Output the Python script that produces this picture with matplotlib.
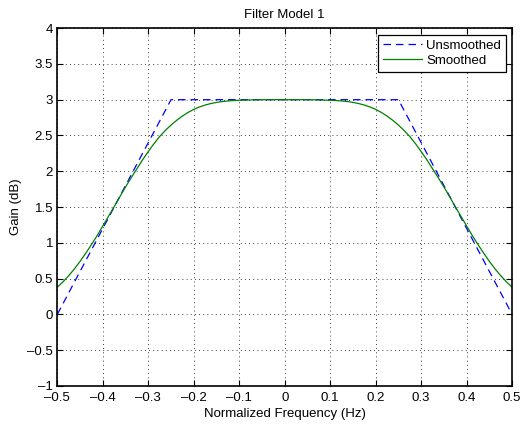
import matplotlib
matplotlib.use("Agg")
import matplotlib.pyplot as plt
from matplotlib.ticker import FuncFormatter

plt.rcParams['font.family'] = ['Liberation Sans', 'DejaVu Sans']

# Data
unsmoothed_x = [-0.5, -0.25, 0.25, 0.5]
unsmoothed_y = [0.0, 3.0, 3.0, 0.0]

half_x = [-0.5, -0.4875, -0.475, -0.4625, -0.45, -0.4375, -0.425, -0.4125,
          -0.4, -0.3875, -0.375, -0.3625, -0.35, -0.3375, -0.325, -0.3125,
          -0.3, -0.2875, -0.275, -0.2625, -0.25, -0.2375, -0.225, -0.2125,
          -0.2, -0.1875, -0.175, -0.1625, -0.15, -0.1375, -0.125, -0.1125,
          -0.1, -0.075, -0.05, -0.025]
half_y = [0.38, 0.455, 0.54, 0.635, 0.74, 0.855, 0.975, 1.10,
          1.235, 1.37, 1.505, 1.645, 1.78, 1.91, 2.035, 2.16,
          2.275, 2.385, 2.485, 2.57, 2.645, 2.712, 2.771, 2.822,
          2.864, 2.898, 2.925, 2.946, 2.962, 2.974, 2.982, 2.988,
          2.992, 2.997, 3.0, 3.0]
smoothed_x = half_x + [0.0] + [-v for v in reversed(half_x)]
smoothed_y = half_y + [3.0] + list(reversed(half_y))

title = "Filter Model 1"
xlabel = "Normalized Frequency (Hz)"
ylabel = "Gain (dB)"
xticks = [-0.5, -0.4, -0.3, -0.2, -0.1, 0, 0.1, 0.2, 0.3, 0.4, 0.5]
yticks = [-1, -0.5, 0, 0.5, 1, 1.5, 2, 2.5, 3, 3.5, 4]

fig = plt.figure(figsize=(5.21, 4.26), dpi=100)
ax = fig.add_axes([0.110, 0.094, 0.873, 0.840])

ax.plot(unsmoothed_x, unsmoothed_y, linestyle=(0, (6, 4)), color=(0, 0, 1), lw=0.9,
        label="Unsmoothed")
ax.plot(smoothed_x, smoothed_y, color=(0, 0.5, 0), lw=0.9, label="Smoothed",
        solid_joinstyle='round')

ax.set_xlim(-0.5, 0.5)
ax.set_ylim(-1, 4)
ax.set_xticks(xticks)
ax.set_yticks(yticks)

def fmt(v, pos):
    s = f"{v:g}"
    return s.replace("-", "\u2013")

ax.xaxis.set_major_formatter(FuncFormatter(fmt))
ax.yaxis.set_major_formatter(FuncFormatter(fmt))
ax.tick_params(direction='in', top=True, right=True, length=4, width=0.8,
               labelsize=9.5, colors='black', pad=3)
ax.tick_params(axis='x', pad=4)
ax.grid(True, linestyle=(0, (1, 4)), color='black', lw=0.6)
for sp in ax.spines.values():
    sp.set_linewidth(1.2)

ax.set_title(title, fontsize=9.5, pad=7)
ax.set_xlabel(xlabel, fontsize=9.5, labelpad=3)
ax.set_ylabel(ylabel, fontsize=9.5, labelpad=4)

leg = ax.legend(loc='upper right', fontsize=9.5, fancybox=False, framealpha=1,
                edgecolor='black', borderaxespad=0.5, handlelength=3.0,
                borderpad=0.35, labelspacing=0.25, handletextpad=0.3)
leg.get_frame().set_linewidth(0.9)

fig.savefig("out.png", dpi=100)
